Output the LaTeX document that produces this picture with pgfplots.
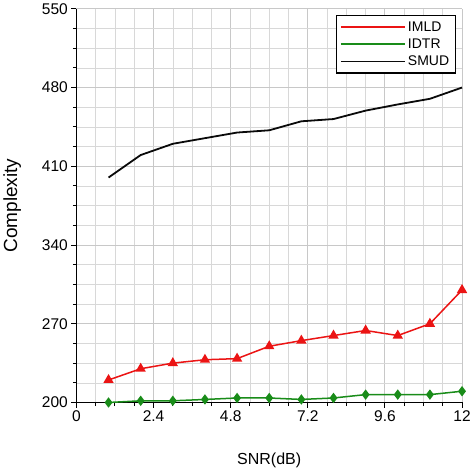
\documentclass[border=0pt]{standalone}
\usepackage{fontspec}
\setmainfont{Liberation Sans}
\usepackage{pgfplots}
\pgfplotsset{compat=1.18}
\definecolor{imld}{RGB}{235,20,20}
\definecolor{idtr}{RGB}{25,140,25}
\definecolor{smud}{RGB}{10,10,10}
\definecolor{gridgray}{RGB}{200,200,200}

\begin{document}
\begin{tikzpicture}
\begin{axis}[
    scale only axis,
    width=384bp, height=392bp,
    xmin=0, xmax=12, ymin=200, ymax=550,
    xtick={0,2.4,4.8,7.2,9.6,12},
    xticklabels={0,2.4,4.8,7.2,9.6,12},
    ytick={200,270,340,410,480,550},
    minor x tick num=3,
    minor y tick num=3,
    grid=both,
    major grid style={gridgray, line width=1pt},
    minor grid style={gridgray!70, line width=0.6pt},
    axis x line*=bottom,
    axis y line*=left,
    axis line style={black, line width=1.3pt, -},
    tick align=outside,
    major tick length=5bp,
    minor tick length=3.5bp,
    tick style={black, line width=1pt},
    /pgf/number format/assume math mode=true,
    ticklabel style={font=\fontsize{15.5}{18}\selectfont},
    xlabel={SNR(dB)},
    ylabel={Complexity},
    xlabel style={font=\fontsize{16}{19}\selectfont, yshift=-24bp},
    ylabel style={font=\fontsize{19}{22}\selectfont, yshift=14bp},
    clip=false,
    legend style={at={(rel axis cs:0.984,0.985)}, anchor=north east,
        draw=black, line width=1.3pt, fill=white,
        font=\fontsize{14}{17}\selectfont,
        row sep=2pt, inner xsep=4pt, inner ysep=4pt},
    legend cell align=left,
    legend image code/.code={\draw[line width=1.5pt, #1] (0bp,0bp) -- (64bp,0bp);},
]
\addlegendimage{imld}
\addlegendentry{IMLD}
\addlegendimage{idtr}
\addlegendentry{IDTR}
\addlegendimage{smud, line width=1.8pt}
\addlegendentry{SMUD}
\addplot[forget plot, color=imld, line width=1.5pt, mark=triangle*, mark size=4.5pt] coordinates {
    (1,220) (2,230) (3,235) (4,238) (5,239) (6,250)
    (7,255) (8,259.5) (9,264) (10,259.5) (11,270) (12,300)
};
\addplot[forget plot, color=idtr, line width=1.5pt, mark=diamond*, mark size=4pt] coordinates {
    (1,200) (2,201.5) (3,201.5) (4,202.7) (5,204) (6,204)
    (7,202.7) (8,204) (9,207) (10,207) (11,207) (12,210)
};
\addplot[forget plot, color=smud, line width=1.8pt, mark=none] coordinates {
    (1,400) (2,420) (3,430) (4,435) (5,440) (6,442)
    (7,450) (8,452) (9,459.5) (10,465) (11,470) (12,480)
};
\end{axis}
\end{tikzpicture}
\end{document}
